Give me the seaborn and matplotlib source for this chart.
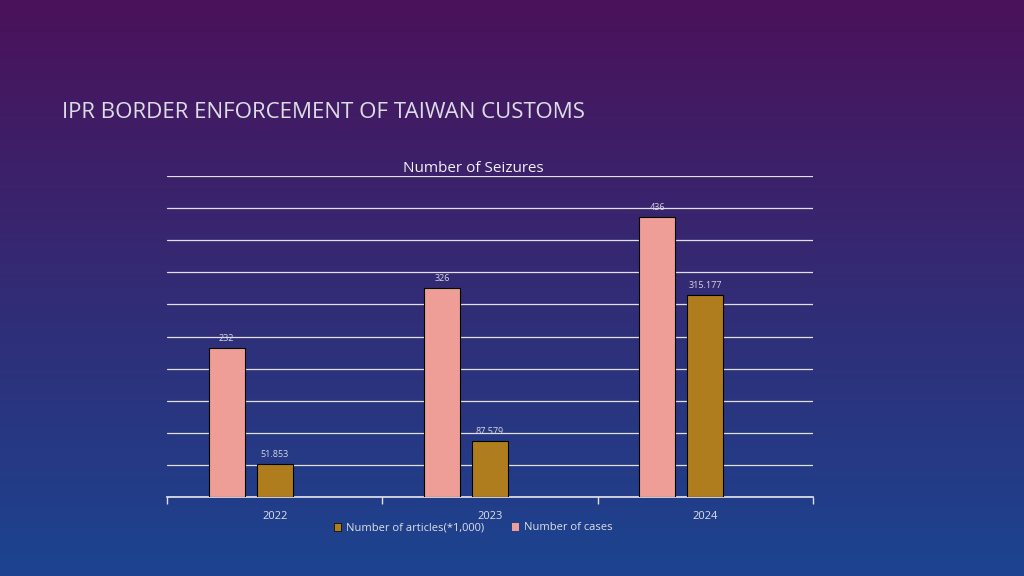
import numpy as np
import matplotlib
matplotlib.use("Agg")
import matplotlib.pyplot as plt
import seaborn as sns
from matplotlib.patches import Patch

years = ["2022", "2023", "2024"]
cases = [232, 326, 436]
articles = [51.853, 87.579, 315.177]
article_labels = ["51.853", "87.579", "315.177"]

sns.set_theme(style="white", font="Open Sans")
fig = plt.figure(figsize=(10.24, 5.76), dpi=100)

# gradient background
bg = fig.add_axes([0, 0, 1, 1])
top = np.array([0x4a, 0x12, 0x5a]) / 255
bot = np.array([0x1c, 0x44, 0x90]) / 255
t = np.linspace(0, 1, 256)[:, None, None]
grad = top * (1 - t) + bot * t
grad = np.repeat(grad, 2, axis=1)
bg.imshow(grad, aspect="auto", extent=[0, 1, 0, 1])
bg.axis("off")

ax = fig.add_axes([167/1024, 1-497/576, (813-167)/1024, (497-176)/576])
ax.patch.set_alpha(0)
x = np.arange(len(years))
bw = 0.167
pink, gold = "#EE9E96", "#B07D1E"
ax.bar(x - 0.223, cases, width=bw, color=pink, edgecolor="black", linewidth=0.8, zorder=3)
ax.bar(x, articles, width=bw, color=gold, edgecolor="black", linewidth=0.8, zorder=3)
for i in range(3):
    ax.text(x[i] - 0.223, cases[i] + 8, str(cases[i]), ha="center", va="bottom", fontsize=6.5, color="#d8d8e0")
    ax.text(x[i], articles[i] + 8, article_labels[i], ha="center", va="bottom", fontsize=6.5, color="#d8d8e0")
ax.set_xlim(-0.5, 2.5)
ax.set_ylim(0, 500)
ax.set_yticks(np.arange(0, 501, 50))
ax.yaxis.grid(True, color="#e0e0e8", linewidth=0.9, zorder=0)
ax.tick_params(axis="y", left=False, labelleft=False)
ax.set_xticks(x)
ax.set_xticklabels(years, color="#e0e0e8", fontsize=8)
ax.set_xticks([-0.5, 0.5, 1.5, 2.5], minor=True)
ax.tick_params(axis="x", which="major", length=0, pad=10)
ax.tick_params(axis="x", which="minor", length=5, color="#e0e0e8", bottom=True)
for s in ["top", "right", "left"]:
    ax.spines[s].set_visible(False)
ax.spines["bottom"].set_color("#e0e0e8")

fig.text(62/1024, 1-113/576, "IPR BORDER ENFORCEMENT OF TAIWAN CUSTOMS", fontsize=16, color="#dcdce4", va="center")
fig.text(473/1024, 1-168/576, "Number of Seizures", fontsize=11, color="#f0f0f4", ha="center", va="center")
handles = [Patch(facecolor=gold, edgecolor="black", linewidth=0.5), Patch(facecolor=pink, edgecolor="none")]
fig.legend(handles, ["Number of articles(*1,000)", "Number of cases"], loc="center", bbox_to_anchor=(473/1024, 1-528/576),
           ncol=2, frameon=False, fontsize=8, labelcolor="#e0e0e8", handlelength=0.7, handleheight=0.7, columnspacing=2.5, handletextpad=0.4)
fig.savefig("out.png", dpi=100)
